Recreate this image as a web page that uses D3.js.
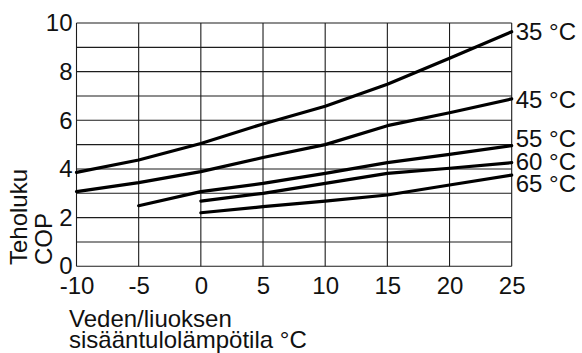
<!DOCTYPE html>
<html>
<head>
<meta charset="utf-8">
<script src="https://cdn.jsdelivr.net/npm/d3@7"></script>
<style>
  html, body { margin: 0; padding: 0; background: #fff; }
  svg { display: block; }
  text { font-family: "Liberation Sans", Arial, sans-serif; fill: #111; }
</style>
</head>
<body>
<svg id="chart" width="582" height="353"></svg>
<script>
// Inlet water/brine temperature (°C) at which COP is read
const inletTemps = [-10, -5, 0, 5, 10, 15, 20, 25];

// Flow temperature curves and their COP values (null = outside operating range)
const curveNames = ["35 °C", "45 °C", "55 °C", "60 °C", "65 °C"];
const cop35 = [3.86, 4.37, 5.05, 5.85, 6.58, 7.48, 8.55, 9.64];
const cop45 = [3.07, 3.44, 3.89, 4.47, 5.0, 5.78, 6.31, 6.88];
const cop55 = [null, 2.49, 3.07, 3.41, 3.82, 4.26, 4.6, 4.96];
const cop60 = [null, null, 2.68, 3.0, 3.41, 3.82, 4.03, 4.26];
const cop65 = [null, null, 2.2, 2.45, 2.68, 2.93, 3.34, 3.75];
const copSeries = [cop35, cop45, cop55, cop60, cop65];

const xTicks = [-10, -5, 0, 5, 10, 15, 20, 25];
const yTicks = [0, 2, 4, 6, 8, 10];
const yGrid = [0, 1, 2, 3, 4, 5, 6, 7, 8, 9, 10];

const W = 582, H = 353;
const margin = { top: 23, right: 70.3, bottom: 86.7, left: 76.5 };
const innerW = W - margin.left - margin.right;
const innerH = H - margin.top - margin.bottom;

const svg = d3.select("#chart");
const g = svg.append("g").attr("transform", `translate(${margin.left},${margin.top})`);

const x = d3.scaleLinear().domain([-10, 25]).range([0, innerW]);
const y = d3.scaleLinear().domain([0, 10]).range([innerH, 0]);

const gridColor = "#1c1c1c";
const fontSize = 24;

// Horizontal grid, one line per COP unit
g.append("g").selectAll("line").data(yGrid).join("line")
  .attr("x1", 0).attr("x2", innerW)
  .attr("y1", d => y(d)).attr("y2", d => y(d))
  .attr("stroke", gridColor).attr("stroke-width", 1.1);

// Vertical grid, one line per 5 °C
g.append("g").selectAll("line").data(xTicks).join("line")
  .attr("x1", d => x(d)).attr("x2", d => x(d))
  .attr("y1", 0).attr("y2", innerH)
  .attr("stroke", gridColor).attr("stroke-width", 1.1);

// Y axis tick labels
const yAxis = d3.axisLeft(y).tickValues(yTicks).tickSize(0).tickPadding(4).tickFormat(d3.format("d"));
const yAx = g.append("g").call(yAxis);
yAx.select(".domain").remove();
yAx.selectAll("text").attr("font-size", fontSize).attr("font-family", null).attr("fill", "#111");

// X axis tick labels
const xAxis = d3.axisBottom(x).tickValues(xTicks).tickSize(0).tickPadding(10.5).tickFormat(d3.format("d"));
const xAx = g.append("g").attr("transform", `translate(0,${innerH})`).call(xAxis);
xAx.select(".domain").remove();
xAx.selectAll("text").attr("font-size", fontSize).attr("font-family", null).attr("fill", "#111")
  .text(d => d < 0 ? "-" + Math.abs(d) : d);

// COP curves
const line = d3.line()
  .defined(d => d.v !== null)
  .x(d => x(d.t))
  .y(d => y(d.v));

const seriesData = copSeries.map((vals, i) => ({
  name: curveNames[i],
  points: inletTemps.map((t, j) => ({ t, v: vals[j] }))
}));

g.append("g").selectAll("path").data(seriesData).join("path")
  .attr("d", d => line(d.points))
  .attr("fill", "none")
  .attr("stroke", "#000")
  .attr("stroke-width", 3.2)
  .attr("stroke-linecap", "round")
  .attr("stroke-linejoin", "round");

// Curve labels at the right end, spread apart where they would collide
const minGap = 22.5;
let labels = seriesData.map(d => {
  const last = d.points[d.points.length - 1];
  return { name: d.name, target: y(last.v) };
}).sort((a, b) => a.target - b.target);

let groups = labels.map(l => ({ items: [l], center: l.target }));
let merged = true;
while (merged) {
  merged = false;
  for (let i = 0; i < groups.length - 1; i++) {
    const a = groups[i], b = groups[i + 1];
    const aBottom = a.center + (a.items.length - 1) * minGap / 2;
    const bTop = b.center - (b.items.length - 1) * minGap / 2;
    if (bTop - aBottom < minGap) {
      const items = a.items.concat(b.items);
      const center = d3.mean(items, it => it.target);
      groups.splice(i, 2, { items, center });
      merged = true;
      break;
    }
  }
}
groups.forEach(gr => {
  gr.items.forEach((it, k) => {
    it.pos = gr.center + (k - (gr.items.length - 1) / 2) * minGap;
  });
});

g.append("g").selectAll("text").data(labels).join("text")
  .attr("x", innerW + 4)
  .attr("y", d => d.pos)
  .attr("dy", "0.36em")
  .attr("font-size", fontSize)
  .text(d => d.name);

// Y axis title (two lines, rotated)
const yTitle = svg.append("text")
  .attr("transform", "translate(0,265) rotate(-90)")
  .attr("font-size", fontSize)
  .attr("text-anchor", "start");
yTitle.append("tspan").attr("x", 0).attr("y", 27).text("Teholuku");
yTitle.append("tspan").attr("x", 0).attr("y", 51.5).text("COP");

// X axis title (two lines)
const xTitle = svg.append("text").attr("font-size", fontSize);
xTitle.append("tspan").attr("x", 69).attr("y", 327).text("Veden/liuoksen");
xTitle.append("tspan").attr("x", 69).attr("y", 348).text("sisääntulolämpötila °C");
</script>
</body>
</html>
